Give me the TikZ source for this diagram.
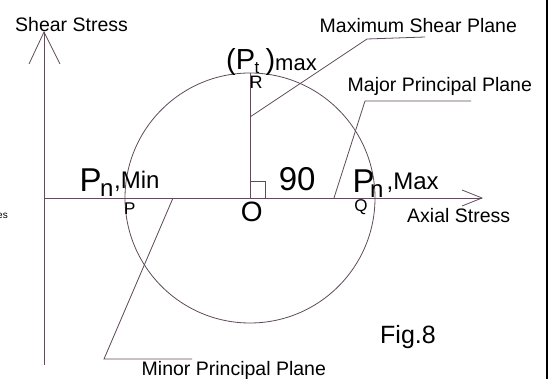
\documentclass[tikz,border=0pt]{standalone}
\usepackage{fontspec}
\setmainfont{Liberation Sans}
\definecolor{linec}{RGB}{95,75,90}
\newcommand{\fs}[1]{\fontsize{#1}{#1}\selectfont}
\begin{document}
\begin{tikzpicture}[x=1pt,y=-1pt,
  ln/.style={draw=linec,line width=0.8pt},
  lbl/.style={inner sep=0pt,anchor=base west,font=\fs{19.5}},
  txt/.style={inner sep=0pt,anchor=base west}]
\useasboundingbox (0,0) rectangle (550,379);
\fill[white] (0,0) rectangle (550,379);
% border on right
\coordinate (bt) at (547,0);
\coordinate (bb) at (547,379);
\draw[black,line width=1.2pt] (bt) -- (bb);
% axes
\coordinate (org) at (44,198);
\coordinate (ytip) at (44,32);
\coordinate (ybot) at (44,365);
\coordinate (yl) at (29,64);
\coordinate (yr) at (60,64);
\coordinate (xtip) at (482,198);
\coordinate (xu) at (462,190);
\coordinate (xd) at (462,206);
\draw[ln] (ybot) -- (ytip);
\draw[ln] (yl) -- (ytip) -- (yr);
\draw[ln] (org) -- (xtip);
\draw[ln] (xu) -- (xtip) -- (xd);
% circle
\coordinate (O) at (250,198);
\coordinate (Rp) at (250,73);
\draw[ln] (O) circle (125pt);
\draw[ln] (O) -- (Rp);
\coordinate (sq1) at (250,181);
\coordinate (sq2) at (265,181);
\coordinate (sq3) at (265,198);
\draw[ln] (sq1) -- (sq2) -- (sq3);
% leaders
\coordinate (ms1) at (250,117);
\coordinate (ms2) at (367,39);
\coordinate (ms3) at (425,37);
\draw[ln] (ms1) -- (ms2) -- (ms3);
\coordinate (ma1) at (334,198);
\coordinate (ma2) at (365,101);
\coordinate (ma3) at (471,101);
\draw[ln] (ma1) -- (ma2) -- (ma3);
\coordinate (mi1) at (173,198);
\coordinate (mi2) at (104,359);
\coordinate (mi3) at (192,359);
\draw[ln] (mi1) -- (mi2) -- (mi3);
% labels
\node[lbl] (shear) at (15,32) {Shear Stress};
\node[lbl] (maxsp) at (319.5,33) {Maximum Shear Plane};
\node[lbl] (majpp) at (347.5,92) {Major Principal Plane};
\node[lbl] (axial) at (407,223) {Axial Stress};
\node[lbl] (minpp) at (141.5,376) {Minor Principal Plane};
\node[txt,font=\fs{25}] (fig) at (380,344) {Fig.8};
\node[txt,font=\fs{10},anchor=base east] (es) at (8,219) {es};
% (P_t)max
\node[txt,font=\fs{29}] (ptP) at (226,70) {(P};
\node[txt,font=\fs{17}] (ptt) at (254.5,74) {t};
\node[txt,font=\fs{29}] (ptc) at (265.5,70) {)};
\node[txt,font=\fs{22}] (ptm) at (275,71) {max};
\node[txt,font=\fs{18}] (Rl) at (249.5,89) {R};
% Pn,Min
\node[txt,font=\fs{33}] (pnP) at (79.5,192) {P};
\node[txt,font=\fs{24}] (pnn) at (100,197) {n};
\node[txt,font=\fs{24}] (pnm) at (114,189) {,Min};
\node[txt,font=\fs{17}] (Pl) at (124,215) {P};
% O and 90
\node[txt,font=\fs{28}] (Ol) at (240.6,222) {O};
\node[txt,font=\fs{33}] (ninety) at (278.7,190.5) {90};
% Pn,Max
\node[txt,font=\fs{33}] (pxP) at (352.5,193) {P};
\node[txt,font=\fs{24}] (pxn) at (370,198) {n};
\node[txt,font=\fs{24}] (pxm) at (386.5,190) {,Max};
\node[txt,font=\fs{17}] (Ql) at (354.2,212) {Q};
\end{tikzpicture}
\end{document}
